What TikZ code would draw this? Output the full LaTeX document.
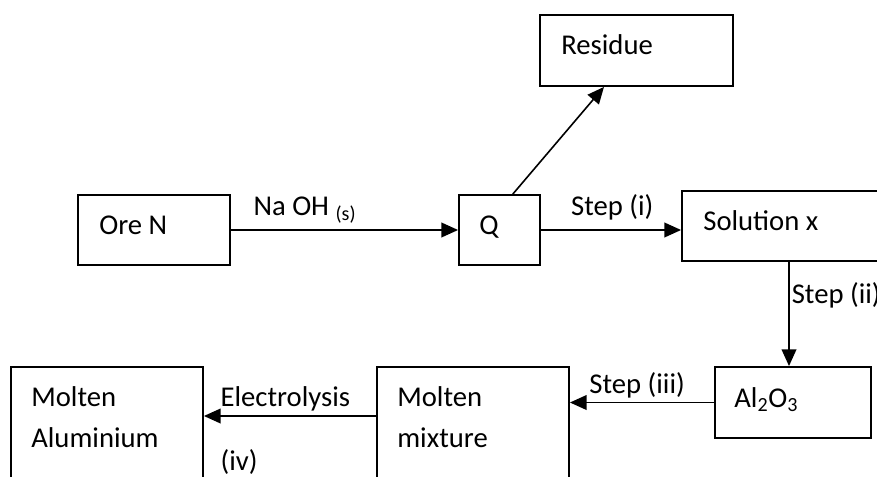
\documentclass[tikz,border=0pt]{standalone}
\usepackage{fontspec}
\setmainfont{Carlito}
\usetikzlibrary{arrows.meta,positioning}
\tikzset{
  box/.style = {rectangle, draw=black, line width=1.4pt, inner sep=0pt},
  txt/.style = {font=\fontsize{21.5}{31}\selectfont, inner sep=0pt, align=left},
  ar/.style  = {-{Triangle[length=12.5pt, width=11pt]}, draw=black, line width=1.2pt},
  lab/.style = {font=\fontsize{21.5}{31}\selectfont, inner sep=0pt, anchor=base west}
}
\begin{document}
\begin{tikzpicture}[x=0.75pt, y=-0.75pt]
  \useasboundingbox (0,0) rectangle (877,477);
  \clip (0,0) rectangle (877,477);
  % ===================== top row =====================
  \node[box, minimum width=114pt, minimum height=52.5pt] (ore) at (154,230) {};
  \node[box, minimum width=60.75pt, minimum height=52.5pt] (Q) at (499.5,230) {};
  \node[box, minimum width=144.75pt, minimum height=53.25pt] (residue) at (636.5,50.5) {};
  \node[box, minimum width=160.5pt, minimum height=52.5pt] (sol) at (789,226) {};

  \node[txt, below right=30pt and 16.5pt of ore.north west, anchor=base west] (oreT) {Ore N};
  \node[txt, below right=30pt and 15.75pt of Q.north west, anchor=base west] (QT) {Q};
  \node[txt, below right=30pt and 16.5pt of residue.north west, anchor=base west] (residueT) {Residue};
  \node[txt, below right=30pt and 16.5pt of sol.north west, anchor=base west] (solT) {Solution x};

  % ===================== bottom row =====================
  \node[box, minimum width=117pt, minimum height=53.25pt] (al) at (793,402.5) {};
  \node[box, minimum width=144pt, minimum height=105pt] (mix) at (473,437) {};
  \node[box, minimum width=144pt, minimum height=105pt] (alum) at (107,437) {};

  % two-line texts: base anchor sits on the last line
  \node[txt, below right=31pt and 15pt of al.north west, anchor=base west] (alT) {Al\textsubscript{2}O\textsubscript{3}};
  \node[txt, below right=61pt and 15.75pt of mix.north west, anchor=base west] (mixT) {Molten\\mixture};
  \node[txt, below right=61pt and 15.75pt of alum.north west, anchor=base west] (alumT) {Molten\\Aluminium};

  % ===================== arrows =====================
  \draw[ar] (ore.east) -- node[lab, pos=0.096, yshift=11.25pt] {Na OH \textsubscript{(s)}} (Q.west);
  \draw[ar] (Q.east) -- node[lab, pos=0.21, yshift=11.25pt] {Step (i)} (Q.east -| sol.west);
  \draw[ar] ([xshift=10pt]Q.north) -- ([xshift=-24.4pt]residue.south);
  \draw[ar] (sol.south) -- node[lab, pos=0.4, xshift=1.5pt] {Step (ii)} (sol.south |- al.north);
  \draw[ar] (al.west) -- node[lab, pos=0.87, yshift=6.4pt] {Step (iii)} (al.west -| mix.east);
  \draw[ar] ([yshift=15.75pt]mix.west) --
            node[lab, pos=0.908, yshift=7.5pt] {Electrolysis}
            node[lab, pos=0.908, yshift=-40.5pt] {(iv)}
            ([yshift=15.75pt]mix.west -| alum.east);
\end{tikzpicture}
\end{document}
